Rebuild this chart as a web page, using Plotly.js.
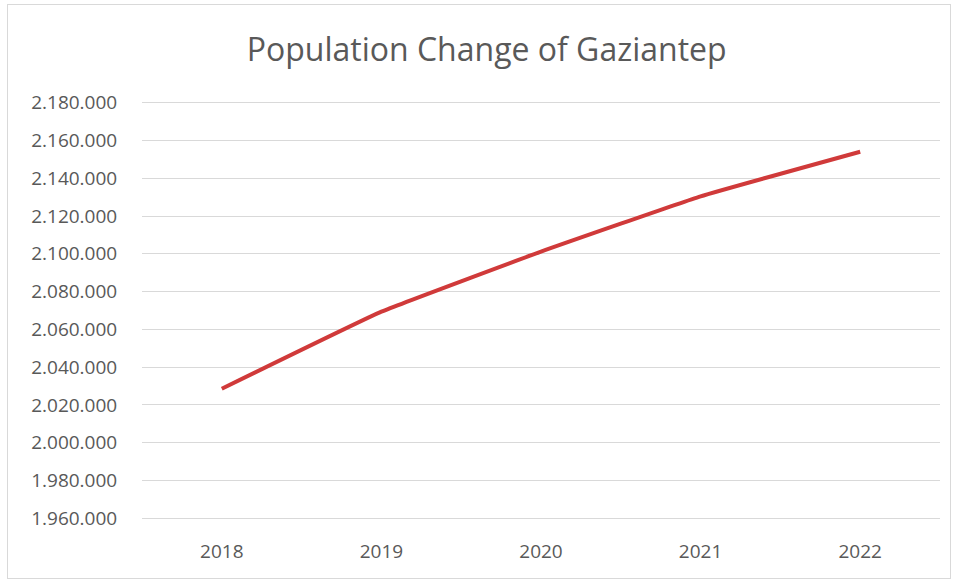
<!DOCTYPE html>
<html>
<head>
<meta charset="utf-8">
<script src="https://cdn.plot.ly/plotly-3.0.1.min.js"></script>
<style>
  html, body { margin: 0; padding: 0; background: #fff; }
  #wrap { position: relative; width: 958px; height: 580px; }
  #chart { width: 958px; height: 580px; }
  #frame { position: absolute; left: 7px; top: 4px; width: 942px; height: 573px;
           border: 1px solid #d9d9d9; pointer-events: none; }
</style>
</head>
<body>
<div id="wrap">
  <div id="chart"></div>
  <div id="frame"></div>
</div>
<script>
const years = ['2018', '2019', '2020', '2021', '2022'];
const population = [2028563, 2069364, 2101157, 2130432, 2154051];
const yTicks = [1960000, 1980000, 2000000, 2020000, 2040000, 2060000, 2080000, 2100000, 2120000, 2140000, 2160000, 2180000];

const trace = {
  x: years,
  y: population,
  type: 'scatter',
  mode: 'lines',
  line: { color: '#d03a3a', width: 4, shape: 'spline', smoothing: 0.3 },
  hoverinfo: 'x+y'
};

const layout = {
  width: 958,
  height: 580,
  margin: { l: 142, r: 18, t: 97, b: 56 },
  paper_bgcolor: '#ffffff',
  plot_bgcolor: '#ffffff',
  separators: ',.',
  showlegend: false,
  font: { family: 'Open Sans, Noto Sans, sans-serif', color: '#595959', size: 19 },
  title: {
    text: 'Population Change of Gaziantep',
    font: { family: 'Open Sans, Noto Sans, sans-serif', size: 32, color: '#595959' },
    x: 0.508, xref: 'container', xanchor: 'center',
    y: 0.914, yref: 'container', yanchor: 'middle'
  },
  xaxis: {
    type: 'category',
    range: [-0.5, 4.5],
    showgrid: false,
    zeroline: false,
    showline: false,
    ticks: 'outside',
    ticklen: 10,
    tickcolor: 'rgba(0,0,0,0)',
    tickfont: { size: 19, color: '#595959' },
    fixedrange: true
  },
  yaxis: {
    range: [1957000, 2183000],
    tickvals: yTicks,
    tickformat: ',d',
    showgrid: true,
    gridcolor: '#d9d9d9',
    gridwidth: 1,
    zeroline: false,
    showline: false,
    ticks: 'outside',
    ticklen: 20,
    tickcolor: 'rgba(0,0,0,0)',
    tickfont: { size: 19, color: '#595959' },
    fixedrange: true
  }
};

Plotly.newPlot('chart', [trace], layout, { displayModeBar: false, staticPlot: true });
</script>
</body>
</html>
